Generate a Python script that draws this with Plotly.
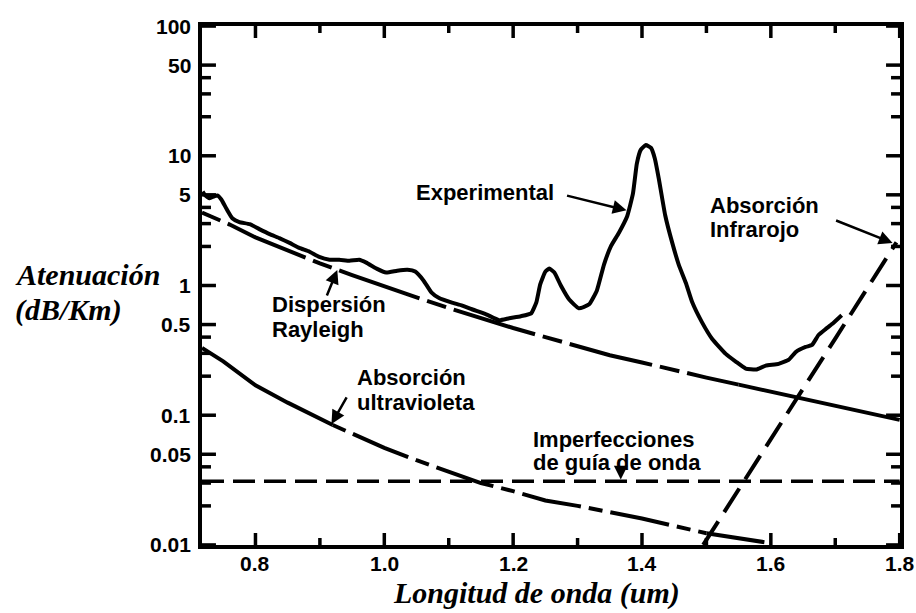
import math
import plotly.graph_objects as go

# ---- Measured attenuation of silica fibre (dB/km) vs wavelength (um) ----
exp_wavelength = [0.718, 0.722, 0.729, 0.735, 0.741, 0.747, 0.755, 0.764, 0.775, 0.791,
                  0.806, 0.822, 0.837, 0.853, 0.868, 0.884, 0.899, 0.915, 0.930, 0.946,
                  0.961, 0.972, 0.988, 1.003, 1.020, 1.036, 1.048, 1.061, 1.073, 1.085,
                  1.104, 1.121, 1.136, 1.158, 1.178, 1.194, 1.212, 1.228, 1.236, 1.242,
                  1.250, 1.256, 1.264, 1.274, 1.287, 1.302, 1.318, 1.330, 1.341, 1.352,
                  1.364, 1.377, 1.386, 1.392, 1.398, 1.406, 1.414, 1.420, 1.426, 1.436,
                  1.447, 1.457, 1.468, 1.478, 1.493, 1.509, 1.530, 1.546, 1.561, 1.577,
                  1.592, 1.612, 1.628, 1.639, 1.654, 1.664, 1.674, 1.685, 1.695, 1.710]
exp_attenuation = [5.3, 4.95, 4.7, 4.85, 4.95, 4.6, 3.9, 3.3, 3.08, 2.97,
                   2.72, 2.49, 2.32, 2.13, 1.95, 1.82, 1.66, 1.58, 1.58, 1.55,
                   1.58, 1.50, 1.35, 1.26, 1.30, 1.32, 1.28, 1.09, 0.885, 0.80,
                   0.74, 0.70, 0.656, 0.60, 0.54, 0.56, 0.58, 0.61, 0.74, 1.02,
                   1.28, 1.35, 1.26, 1.00, 0.78, 0.667, 0.716, 0.916, 1.45, 2.02,
                   2.54, 3.42, 5.13, 8.7, 11.1, 12.1, 11.5, 9.5, 6.7, 3.48,
                   2.13, 1.45, 1.05, 0.742, 0.522, 0.387, 0.297, 0.258, 0.229, 0.225,
                   0.241, 0.249, 0.268, 0.308, 0.336, 0.348, 0.415, 0.461, 0.504, 0.59]

# ---- Rayleigh scattering ----
rayleigh_wavelength = [0.717, 0.76, 0.80, 0.85, 0.90, 0.95, 1.00, 1.05, 1.10, 1.15, 1.20,
                       1.25, 1.30, 1.35, 1.40, 1.45, 1.50, 1.55, 1.60, 1.70, 1.80]
rayleigh_attenuation = [3.65, 2.95, 2.35, 1.85, 1.48, 1.20, 0.98, 0.81, 0.67, 0.56, 0.47,
                        0.40, 0.34, 0.29, 0.255, 0.222, 0.195, 0.172, 0.152, 0.118, 0.092]

# ---- Ultraviolet absorption ----
uv_wavelength = [0.717, 0.75, 0.80, 0.85, 0.92, 0.95, 1.00, 1.05, 1.10, 1.15, 1.20,
                 1.25, 1.30, 1.35, 1.40, 1.45, 1.50, 1.55, 1.59]
uv_attenuation = [0.33, 0.26, 0.17, 0.125, 0.084, 0.072, 0.056, 0.045, 0.037, 0.030, 0.026,
                  0.022, 0.020, 0.018, 0.016, 0.014, 0.0123, 0.0113, 0.0105]

# ---- Infrared absorption ----
ir_wavelength = [1.495, 1.55, 1.60, 1.65, 1.70, 1.75, 1.795]
ir_attenuation = [0.0100, 0.027, 0.065, 0.16, 0.39, 0.96, 2.15]

# ---- Waveguide imperfections ----
guide_wavelength = [0.717, 1.80]
guide_attenuation = [0.031, 0.031]

x_tick_vals = [0.8, 1.0, 1.2, 1.4, 1.6, 1.8]
x_tick_text = ["0.8", "1.0", "1.2", "1.4", "1.6", "1.8"]
x_minor_vals = [0.9, 1.1, 1.3, 1.5, 1.7]
y_tick_vals = [0.01, 0.05, 0.1, 0.5, 1, 5, 10, 50, 100]
y_tick_text = ["0.01", "0.05", "0.1", "0.5", "1", "5", "10", "50", "100"]
y_minor_vals = [0.02, 0.03, 0.04, 0.2, 0.3, 0.4, 2, 3, 4, 20, 30, 40]

X_RANGE = [0.717, 1.8005]
Y_RANGE = [-2.0005, 2.0005]          # log10 decades

WIDTH, HEIGHT = 916, 613
MARGIN = dict(l=202, r=14, t=26, b=68)
PLOT_W = WIDTH - MARGIN["l"] - MARGIN["r"]
PLOT_H = HEIGHT - MARGIN["t"] - MARGIN["b"]
X_PER_PX = (X_RANGE[1] - X_RANGE[0]) / PLOT_W
DEC_PER_PX = (Y_RANGE[1] - Y_RANGE[0]) / PLOT_H

SANS = "Liberation Sans"
SCRIPT = "Liberation Serif"

fig = go.Figure()


def add_curve(xs, ys, dash="solid", width=4.0, clip=True):
    fig.add_trace(go.Scatter(
        x=xs, y=ys, mode="lines",
        line=dict(color="black", width=width, dash=dash),
        showlegend=False, hoverinfo="skip", cliponaxis=clip,
    ))


def piece(xs, ys, lo, hi):
    pts = [(a, b) for a, b in zip(xs, ys) if lo <= a <= hi]
    return [p[0] for p in pts], [p[1] for p in pts]


# waveguide imperfections: short dashes
add_curve(guide_wavelength, guide_attenuation, dash="22px,9px", width=3.5)

# Rayleigh: long dash / short dash, solid at the long-wavelength end
add_curve(*piece(rayleigh_wavelength, rayleigh_attenuation, 0.7, 1.55), dash="20px,8px,85px,8px")
add_curve(*piece(rayleigh_wavelength, rayleigh_attenuation, 1.55, 1.9))

# UV absorption: solid, dash-dot, solid
add_curve(*piece(uv_wavelength, uv_attenuation, 0.7, 0.92))
add_curve(*piece(uv_wavelength, uv_attenuation, 0.92, 1.50), dash="14px,8px,60px,8px")
add_curve(*piece(uv_wavelength, uv_attenuation, 1.50, 1.6))

# IR absorption: long dashes
add_curve(ir_wavelength, ir_attenuation, dash="28px,11px")

# measured curve
add_curve(exp_wavelength, exp_attenuation, width=4)
fig.data[-1].line.shape = "spline"
fig.data[-1].line.smoothing = 0.4


# ---- inward tick marks on all four sides, drawn as short line segments ----
def x_ticks(values, length):
    d = length * DEC_PER_PX
    xs, ys = [], []
    for v in values:
        xs += [v, v, None, v, v, None]
        ys += [10 ** Y_RANGE[0], 10 ** (Y_RANGE[0] + d), None,
               10 ** Y_RANGE[1], 10 ** (Y_RANGE[1] - d), None]
    add_curve(xs, ys, width=3.5, clip=False)


def y_ticks(values, length):
    d = length * X_PER_PX
    xs, ys = [], []
    for v in values:
        xs += [X_RANGE[0], X_RANGE[0] + d, None, X_RANGE[1], X_RANGE[1] - d, None]
        ys += [v, v, None, v, v, None]
    add_curve(xs, ys, width=3.5, clip=False)


x_ticks(x_tick_vals, 12)
x_ticks(x_minor_vals, 7)
y_ticks(y_tick_vals, 14)
y_ticks(y_minor_vals, 9)

# ---- tick labels ----
tick_font = dict(family=SANS, size=21, color="black", weight="bold")
for v, t in zip(x_tick_vals, x_tick_text):
    fig.add_annotation(x=v, y=-18 / PLOT_H, xref="x", yref="paper", text=t,
                       showarrow=False, xanchor="center", yanchor="middle", font=tick_font)
for v, t in zip(y_tick_vals, y_tick_text):
    fig.add_annotation(x=-9 / PLOT_W, y=math.log10(v), xref="paper", yref="y", text=t,
                       showarrow=False, xanchor="right", yanchor="middle", font=tick_font)


def label(text, x, y, anchor="left"):
    fig.add_annotation(
        x=x, y=math.log10(y), xref="x", yref="y", text=text, showarrow=False,
        xanchor=anchor, yanchor="middle",
        font=dict(family=SANS, size=22, color="black", weight="bold"),
    )


def pointer(x, y, ax, ay):
    fig.add_annotation(
        x=x, y=math.log10(y), xref="x", yref="y", text="", showarrow=True,
        ax=ax, ay=ay, arrowhead=2, arrowsize=1.1, arrowwidth=2.5,
        arrowcolor="black", standoff=0, startstandoff=0,
    )


label("Experimental", 1.156, 5.21, anchor="center")
pointer(1.376, 3.8, -61, -15)

label("Dispersión", 0.822, 0.714)
label("Rayleigh", 0.822, 0.462)
pointer(0.927, 1.317, -11, 27)

label("Absorción", 0.954, 0.1937)
label("ultravioleta", 0.954, 0.1254)
pointer(0.918, 0.0856, 16, -28)

label("Imperfecciones", 1.2276, 0.0645)
label("de guía de onda", 1.2276, 0.0429)
pointer(1.367, 0.032, 0, -13)

label("Absorción", 1.503, 4.17)
label("Infrarojo", 1.503, 2.68)
pointer(1.789, 2.13, -58, -23)

# axis titles in a script-like face
title_font = dict(family=SCRIPT, size=30, color="black", weight="bold", style="italic")
fig.add_annotation(x=-0.2714, y=0.522, xref="paper", yref="paper", text="Atenuación",
                   showarrow=False, xanchor="left", yanchor="middle", font=title_font)
fig.add_annotation(x=-0.2714, y=0.4528, xref="paper", yref="paper", text="(dB/Km)",
                   showarrow=False, xanchor="left", yanchor="middle", font=title_font)
fig.add_annotation(x=0.4786, y=-48 / PLOT_H, xref="paper", yref="paper",
                   text="Longitud de onda (um)", showarrow=False,
                   xanchor="center", yanchor="middle", font=title_font)

frame = dict(showgrid=False, zeroline=False, showline=True, linecolor="black",
             linewidth=3.5, mirror=True, ticks="", showticklabels=False)

fig.update_layout(
    xaxis=dict(range=X_RANGE, **frame),
    yaxis=dict(type="log", range=Y_RANGE, **frame),
    width=WIDTH, height=HEIGHT,
    margin=MARGIN,
    paper_bgcolor="white", plot_bgcolor="white",
    showlegend=False,
)

fig.write_html("out.html")
